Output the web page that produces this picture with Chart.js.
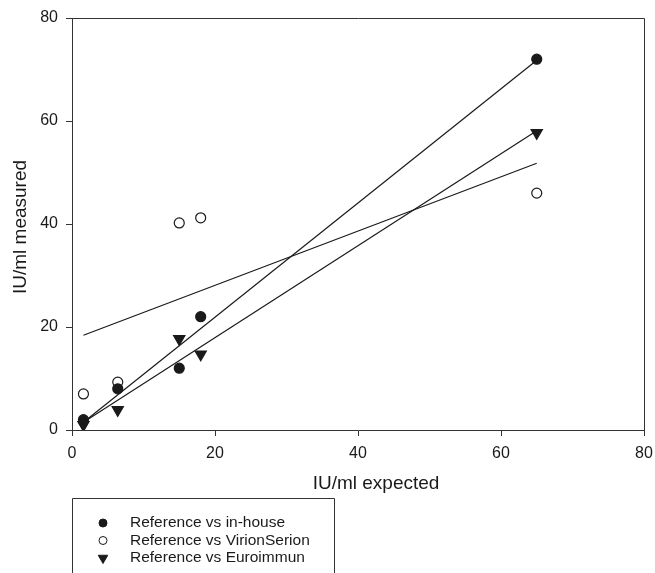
<!DOCTYPE html>
<html>
<head>
<meta charset="utf-8">
<script src="https://cdn.jsdelivr.net/npm/chart.js@4/dist/chart.umd.min.js"></script>
<style>
	html, body { margin: 0; padding: 0; background: #fff; }
	#wrap { width: 655px; height: 573px; }
</style>
</head>
<body>
<div id="wrap"><canvas id="chart" width="655" height="573"></canvas></div>
<script>
/* Values */
var expected = [1.6, 6.4, 15, 18, 65];
var inHouse = [2, 8, 12, 22, 72];
var virionSerion = [7, 9.3, 40.2, 41.2, 46];
var euroimmun = [1, 3.9, 17.7, 14.7, 57.7];

/* Fitted lines, y at both ends of the expected range */
var fitRange = [1.6, 65];
var fitInHouse = [1.5, 71.8];
var fitVirionSerion = [18.4, 51.8];
var fitEuroimmun = [1.5, 58.1];

var legendLabels = ['Reference vs in-house', 'Reference vs VirionSerion', 'Reference vs Euroimmun'];
var axisTicks = [0, 20, 40, 60, 80];
var xTitle = 'IU/ml expected';
var yTitle = 'IU/ml measured';

var font = '"Liberation Sans", Arial, Helvetica, sans-serif';
var ink = '#1a1a1a';

function toPoints(xs, ys) {
	return xs.map(function (x, i) { return { x: x, y: ys[i] }; });
}

function fitLine(ys) {
	return {
		type: 'line',
		data: toPoints(fitRange, ys),
		borderColor: ink,
		borderWidth: 1.2,
		pointRadius: 0,
		fill: false
	};
}

var markers = [
	{ pointStyle: 'circle', radius: 5, rotation: 0, fill: ink, stroke: ink },
	{ pointStyle: 'circle', radius: 5, rotation: 0, fill: '#fff', stroke: ink },
	{ pointStyle: 'triangle', radius: 6.5, rotation: 180, fill: ink, stroke: ink }
];

function markerSet(ys, m) {
	return {
		type: 'scatter',
		data: toPoints(expected, ys),
		pointStyle: m.pointStyle,
		pointRadius: m.radius,
		rotation: m.rotation,
		backgroundColor: m.fill,
		borderColor: m.stroke,
		borderWidth: 1.2
	};
}

/* Frame round the plot, axis titles and the legend box below it */
var frameAndLegend = {
	id: 'frameAndLegend',
	afterDraw: function (chart) {
		var ctx = chart.ctx;
		var a = chart.chartArea;
		ctx.save();
		ctx.strokeStyle = '#333';
		ctx.lineWidth = 1;
		ctx.beginPath();
		ctx.moveTo(Math.round(a.left) + 0.5, Math.round(a.top) + 0.5);
		ctx.lineTo(Math.round(a.right) + 0.5, Math.round(a.top) + 0.5);
		ctx.lineTo(Math.round(a.right) + 0.5, Math.round(a.bottom) + 0.5);
		ctx.stroke();

		// axis titles
		ctx.fillStyle = ink;
		ctx.font = '19px ' + font;
		ctx.textAlign = 'center';
		ctx.textBaseline = 'alphabetic';
		ctx.fillText(xTitle, 376, 489);
		ctx.save();
		ctx.translate(26, (a.top + a.bottom) / 2 + 3);
		ctx.rotate(-Math.PI / 2);
		ctx.fillText(yTitle, 0, 0);
		ctx.restore();

		// legend
		ctx.beginPath();
		ctx.moveTo(72.5, 573);
		ctx.lineTo(72.5, 498.5);
		ctx.lineTo(334.5, 498.5);
		ctx.lineTo(334.5, 573);
		ctx.stroke();

		ctx.font = '15.5px ' + font;
		ctx.textAlign = 'left';
		ctx.textBaseline = 'middle';
		legendLabels.forEach(function (label, i) {
			var y = 523 + i * 17.5;
			var m = markers[i];
			ctx.fillStyle = m.fill;
			ctx.strokeStyle = m.stroke;
			Chart.helpers.drawPoint(ctx, {
				pointStyle: m.pointStyle,
				radius: m.pointStyle === 'triangle' ? 5.5 : 4,
				rotation: m.rotation,
				borderWidth: 1.2
			}, 103, y);
			ctx.fillStyle = ink;
			ctx.fillText(label, 130, y);
		});
		ctx.restore();
	}
};

var tickOptions = {
	color: ink,
	font: { family: font, size: 16 },
	padding: 8
};

new Chart(document.getElementById('chart'), {
	type: 'scatter',
	data: {
		datasets: [
			fitLine(fitInHouse),
			fitLine(fitVirionSerion),
			fitLine(fitEuroimmun),
			markerSet(inHouse, markers[0]),
			markerSet(virionSerion, markers[1]),
			markerSet(euroimmun, markers[2])
		]
	},
	options: {
		responsive: false,
		animation: false,
		layout: { padding: { top: 18, right: 11, bottom: 0, left: 0 } },
		plugins: {
			legend: { display: false },
			tooltip: { enabled: false }
		},
		scales: {
			x: {
				type: 'linear',
				min: 0,
				max: 80,
				afterBuildTicks: function (s) { s.ticks = axisTicks.map(function (v) { return { value: v }; }); },
				afterFit: function (s) { s.height = 143; s.paddingLeft = 0; s.paddingRight = 0; },
				grid: { drawOnChartArea: false, drawTicks: true, tickLength: 6, color: '#333' },
				border: { color: '#333' },
				ticks: tickOptions
			},
			y: {
				type: 'linear',
				min: 0,
				max: 80,
				afterBuildTicks: function (s) { s.ticks = axisTicks.map(function (v) { return { value: v }; }); },
				afterFit: function (s) { s.width = 72; s.paddingTop = 0; s.paddingBottom = 0; },
				grid: { drawOnChartArea: false, drawTicks: true, tickLength: 6, color: '#333' },
				border: { color: '#333' },
				ticks: tickOptions
			}
		}
	},
	plugins: [frameAndLegend]
});
</script>
</body>
</html>
